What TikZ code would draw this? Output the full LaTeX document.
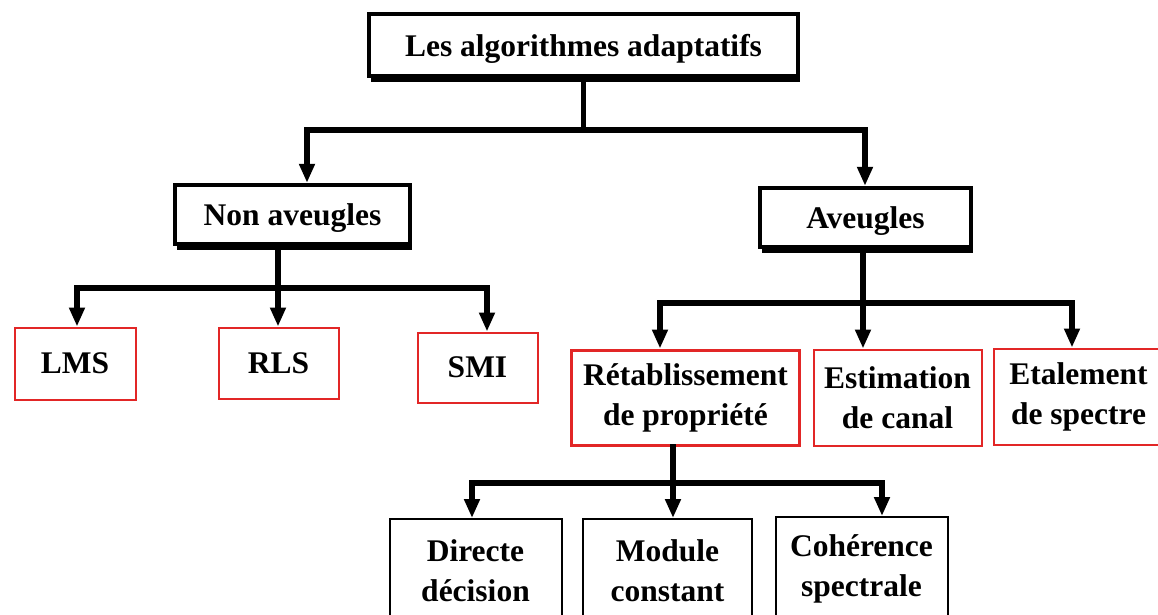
\documentclass[tikz,border=0pt]{standalone}
\usepackage{fontspec}
\setmainfont{Liberation Serif}
\usepackage{tikz}
\usetikzlibrary{arrows.meta, shadows}
\usepackage{xcolor}
\definecolor{boxred}{RGB}{226,38,38}

\begin{document}
\begin{tikzpicture}[x=0.5pt, y=-0.5pt,
		every node/.style={font=\fontsize{15.75}{20}\selectfont\bfseries, align=center, inner sep=0pt, fill=white},
		headbox/.style={draw, line width=2.2pt, text depth=0pt, minimum height=29.5pt, drop shadow={shadow xshift=1.2pt, shadow yshift=-2.9pt, fill=black, opacity=1}},
		redbox/.style={draw=boxred, line width=1pt},
		leafbox/.style={draw, line width=1pt, minimum height=52pt},
		link/.style={line width=2.8pt, line cap=rect},
		arr/.style={line width=2.8pt, -{Triangle[length=9.5pt, width=7.5pt]}}]
		\useasboundingbox (0,0) rectangle (1158,615);
		\draw (583.5,45) node[headbox, minimum width=214.5pt, minimum height=31pt] (top) {Les algorithmes adaptatifs}
		(292.5,214.5) node[headbox, minimum width=117.5pt] (nonav) {Non aveugles}
		(865.5,217.5) node[headbox, minimum width=105.5pt] (aveu) {Aveugles}
		(75,363.5) node[redbox, minimum width=60.5pt, minimum height=36pt] (lms) {LMS}
		(278.5,363) node[redbox, minimum width=60pt, minimum height=35.5pt] (rls) {RLS}
		(477.5,367.5) node[redbox, minimum width=60pt, minimum height=35pt] (smi) {SMI}
		(685.5,397.5) node[redbox, line width=1.5pt, minimum width=114pt, minimum height=47.5pt] (reta) {Rétablissement\\de propriété}
		(897.5,397.5) node[redbox, minimum width=84pt, minimum height=48pt] (esti) {Estimation\\de canal}
		(1078.5,396.5) node[redbox, minimum width=85pt, minimum height=48pt] (etal) {Etalement\\de spectre}
		(475.5,571) node[leafbox, minimum width=86pt] (direct) {Directe\\décision}
		(667.5,571) node[leafbox, minimum width=84.5pt] (module) {Module\\constant}
		(861.5,569) node[leafbox, minimum width=86pt] (coher) {Cohérence\\spectrale};

		\coordinate (b1l) at (307,130);
		\coordinate (b1r) at (865,130);
		\coordinate (b2l) at (77,288);
		\coordinate (b2m) at (278,288);
		\coordinate (b2r) at (487,288);
		\coordinate (b3l) at (660,303);
		\coordinate (b3m) at (863,303);
		\coordinate (b3r) at (1072,303);
		\coordinate (b4l) at (472,483);
		\coordinate (b4m) at (673,483);
		\coordinate (b4r) at (882,483);

		\draw[link] (top.south) -- (top.south |- b1l);
		\draw[link] (b1l) -- (b1r);
		\draw[arr] (b1l) -- (b1l |- nonav.north);
		\draw[arr] (b1r) -- (b1r |- aveu.north);

		\draw[link] (b2m |- nonav.south) -- (b2m);
		\draw[link] (b2l) -- (b2r);
		\draw[arr] (b2l) -- (b2l |- lms.north);
		\draw[arr] (b2m) -- (b2m |- rls.north);
		\draw[arr] (b2r) -- (b2r |- smi.north);

		\draw[link] (b3m |- aveu.south) -- (b3m);
		\draw[link] (b3l) -- (b3r);
		\draw[arr] (b3l) -- (b3l |- reta.north);
		\draw[arr] (b3m) -- (b3m |- esti.north);
		\draw[arr] (b3r) -- (b3r |- etal.north);

		\draw[link] (b4m |- reta.south) -- (b4m);
		\draw[link] (b4l) -- (b4r);
		\draw[arr] (b4l) -- (b4l |- direct.north);
		\draw[arr] (b4m) -- (b4m |- module.north);
		\draw[arr] (b4r) -- (b4r |- coher.north);
	\end{tikzpicture}
\end{document}
